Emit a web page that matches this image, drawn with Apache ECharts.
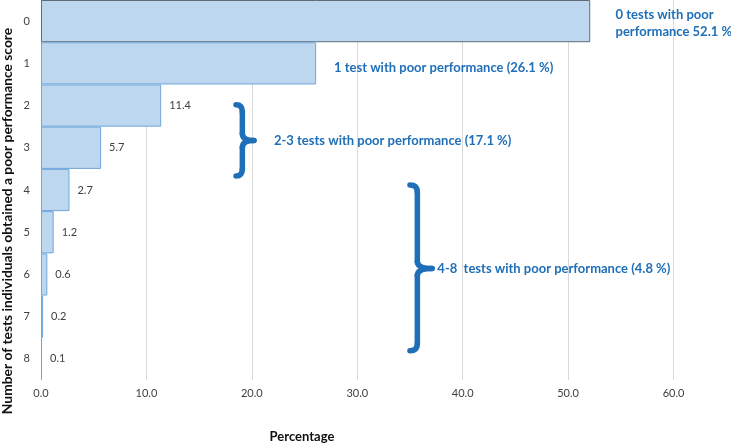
<!DOCTYPE html>
<html><head><meta charset="utf-8">
<script src="https://cdn.jsdelivr.net/npm/echarts@6/dist/echarts.min.js"></script>
<style>html,body{margin:0;padding:0;background:#fff}#c{width:731px;height:444px}</style>
</head><body><div id="c"></div>
<script>
const categories = ['0','1','2','3','4','5','6','7','8'];
const percentages = [52.1, 26.1, 11.4, 5.7, 2.7, 1.2, 0.6, 0.2, 0.1];
const xTicks = [0, 10, 20, 30, 40, 50, 60];
const groupNotes = [
  {text: '0 tests with poor\nperformance 52.1 %', x: 54.5, cat: 0.05},
  {text: '1 test with poor performance (26.1 %)', x: 27.8, cat: 1.1},
  {text: '2-3 tests with poor performance (17.1 %)', x: 22.1, cat: 2.83},
  {text: '4-8  tests with poor performance (4.8 %)', x: 37.6, cat: 5.86}
];
const braces = [
  {x0: 18.5, xv: 19.1, xt: 20.2, top: 1.98, bottom: 3.67, mid: 2.83},
  {x0: 35.0, xv: 35.7, xt: 37.1, top: 3.88, bottom: 7.81, mid: 5.86}
];
const FONT = 'Lato';
const BLUE = '#1F6FB8';
const chart = echarts.init(document.getElementById('c'));
chart.setOption({
  animation: false,
  grid: {left: 41, right: 57.5, top: 0, bottom: 64, containLabel: false},
  xAxis: {
    type: 'value', min: xTicks[0], max: xTicks[xTicks.length - 1], interval: 10,
    axisLine: {show: false}, axisTick: {show: false},
    splitLine: {lineStyle: {color: '#D9D9D9', width: 1}},
    axisLabel: {formatter: v => v.toFixed(1), color: '#404040', fontSize: 11, fontFamily: FONT, margin: 8}
  },
  yAxis: {
    type: 'category', data: categories, inverse: true,
    axisLine: {show: false}, axisTick: {show: false},
    axisLabel: {color: '#404040', fontSize: 11, fontFamily: FONT, margin: 11}
  },
  series: [{
    type: 'bar', barCategoryGap: 0,
    data: percentages.map((v, i) => ({
      value: v,
      itemStyle: {borderColor: i === 0 ? '#5E6C7A' : '#6FA6DC'},
      label: {show: i >= 2}
    })),
    itemStyle: {color: '#BDD7EE', borderWidth: 1},
    label: {position: 'right', distance: 8, color: '#404040', fontSize: 11, fontFamily: FONT,
      formatter: p => p.value.toFixed(1)}
  }]
});
function px(x, cat) {
  const a = chart.convertToPixel({gridIndex: 0}, [x, 0]);
  const b = chart.convertToPixel({gridIndex: 0}, [x, 1]);
  return [a[0], a[1] + (b[1] - a[1]) * cat];
}
const g = [];
groupNotes.forEach(n => {
  const p = px(n.x, n.cat);
  g.push({type: 'text', x: p[0], y: p[1], style: {text: n.text, fill: BLUE, font: 'bold 13px ' + FONT,
    textVerticalAlign: 'middle', lineHeight: 17}});
});
const bstyle = {fill: null, stroke: BLUE, lineWidth: 5.5, lineCap: 'round', lineJoin: 'round'};
braces.forEach(b => {
  const t = px(b.x0, b.top), bo = px(b.x0, b.bottom), m = px(b.xt, b.mid);
  const xv = px(b.xv, 0)[0];
  const r = 7;
  g.push({type: 'bezierCurve', shape: {x1: t[0], y1: t[1], cpx1: xv, cpy1: t[1], x2: xv, y2: t[1] + r}, style: bstyle});
  g.push({type: 'line', shape: {x1: xv, y1: t[1] + r, x2: xv, y2: m[1] - r}, style: bstyle});
  g.push({type: 'bezierCurve', shape: {x1: xv, y1: m[1] - r, cpx1: xv, cpy1: m[1], x2: m[0], y2: m[1]}, style: bstyle});
  g.push({type: 'bezierCurve', shape: {x1: m[0], y1: m[1], cpx1: xv, cpy1: m[1], x2: xv, y2: m[1] + r}, style: bstyle});
  g.push({type: 'line', shape: {x1: xv, y1: m[1] + r, x2: xv, y2: bo[1] - r}, style: bstyle});
  g.push({type: 'bezierCurve', shape: {x1: xv, y1: bo[1] - r, cpx1: xv, cpy1: bo[1], x2: bo[0], y2: bo[1]}, style: bstyle});
});
g.push({type: 'text', x: 8, y: 221, rotation: Math.PI / 2,
  style: {text: 'Number of tests individuals obtained a poor performance score', fill: '#111', font: 'bold 13.8px ' + FONT,
    textAlign: 'center', textVerticalAlign: 'middle'}});
g.push({type: 'text', x: 302, y: 437,
  style: {text: 'Percentage', fill: '#111', font: 'bold 13px ' + FONT, textAlign: 'center', textVerticalAlign: 'middle'}});
chart.setOption({graphic: g});
</script></body></html>
